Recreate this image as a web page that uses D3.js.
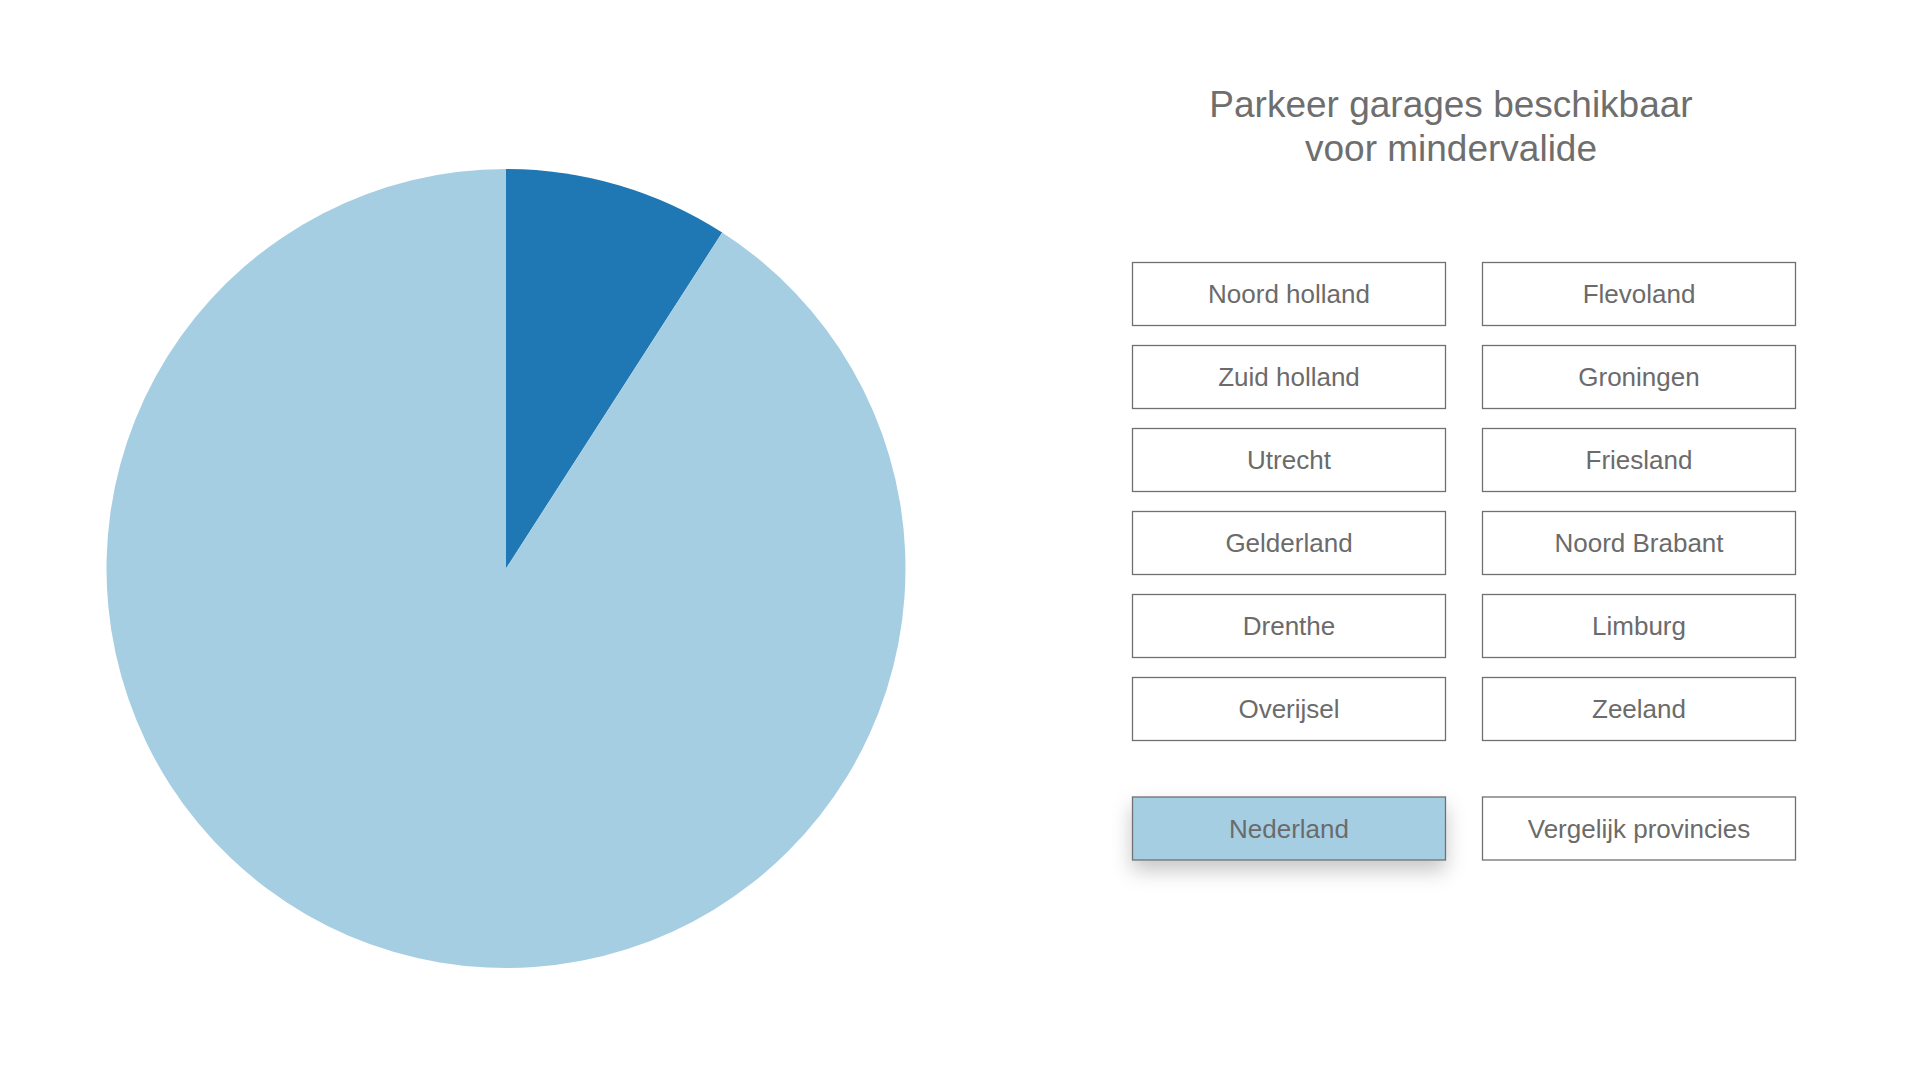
<!DOCTYPE html>
<html>
<head>
<meta charset="utf-8">
<script src="https://cdn.jsdelivr.net/npm/d3@7"></script>
<style>
  html, body { margin: 0; padding: 0; background: #ffffff; }
  svg { display: block; }
  text { font-family: "Liberation Sans", Arial, Helvetica, sans-serif; }
</style>
</head>
<body>
<script>
// ---- data ----
const titleLines = ["Parkeer garages beschikbaar", "voor mindervalide"];
const sliceLabels = ["Beschikbaar voor mindervalide", "Niet beschikbaar"];
const sliceValues = [9.1, 90.9];
const sliceColors = ["#1f78b4", "#a6cee3"];
const provinceButtons = [
  "Noord holland", "Flevoland",
  "Zuid holland", "Groningen",
  "Utrecht", "Friesland",
  "Gelderland", "Noord Brabant",
  "Drenthe", "Limburg",
  "Overijsel", "Zeeland"
];
const bottomButtons = ["Nederland", "Vergelijk provincies"];
const activeButton = "Nederland";

// ---- layout ----
const W = 1920, H = 1080;
const svg = d3.select("body").append("svg").attr("width", W).attr("height", H);

const defs = svg.append("defs");
const f = defs.append("filter").attr("id", "shadow")
  .attr("x", "-30%").attr("y", "-50%").attr("width", "160%").attr("height", "230%");
f.append("feDropShadow").attr("dx", 0).attr("dy", 10).attr("stdDeviation", 10)
  .attr("flood-color", "#000").attr("flood-opacity", 0.22);

// pie
const cx = 506, cy = 568.5, R = 399.5;
const pie = d3.pie().sort(null).value(d => d.value);
const arc = d3.arc().innerRadius(0).outerRadius(R);
const pieData = pie(sliceValues.map((v, i) => ({ label: sliceLabels[i], value: v })));
const color = d3.scaleOrdinal().domain(sliceLabels).range(sliceColors);

svg.append("g").attr("transform", `translate(${cx},${cy})`)
  .selectAll("path").data(pieData).join("path")
  .attr("d", arc)
  .attr("fill", d => color(d.data.label));

// title
const title = svg.append("text")
  .attr("x", 1451).attr("y", 117)
  .attr("text-anchor", "middle")
  .attr("font-size", 37)
  .attr("fill", "#6e6e6e");
title.selectAll("tspan").data(titleLines).join("tspan")
  .attr("x", 1451)
  .attr("dy", (d, i) => i === 0 ? 0 : 44)
  .text(d => d);

// buttons
const bw = 313, bh = 63;
const colLeft = [1132, 1482];
const rowY = d3.scaleLinear().domain([0, 1]).range([262, 345]);

const allButtons = provinceButtons.map((name, i) => ({ name, col: i % 2, y: rowY(Math.floor(i / 2)) }))
  .concat(bottomButtons.map((name, i) => ({ name, col: i, y: 796.5 })));

const bg = svg.append("g");
const btn = bg.selectAll("g.btn").data(allButtons).join("g")
  .attr("class", "btn")
  .attr("transform", d => `translate(${colLeft[d.col]},${d.y})`);

btn.append("rect")
  .attr("x", 0.5).attr("y", 0.5)
  .attr("width", bw).attr("height", bh)
  .attr("fill", d => d.name === activeButton ? "#a6cee3" : "#ffffff")
  .attr("stroke", "#707070")
  .attr("stroke-width", 1.3)
  .attr("filter", d => d.name === activeButton ? "url(#shadow)" : null);

btn.append("text")
  .attr("x", bw / 2 + 0.5)
  .attr("y", bh / 2 + 9.5)
  .attr("text-anchor", "middle")
  .attr("font-size", 26)
  .attr("fill", "#6b6b6b")
  .text(d => d.name);
</script>
</body>
</html>
